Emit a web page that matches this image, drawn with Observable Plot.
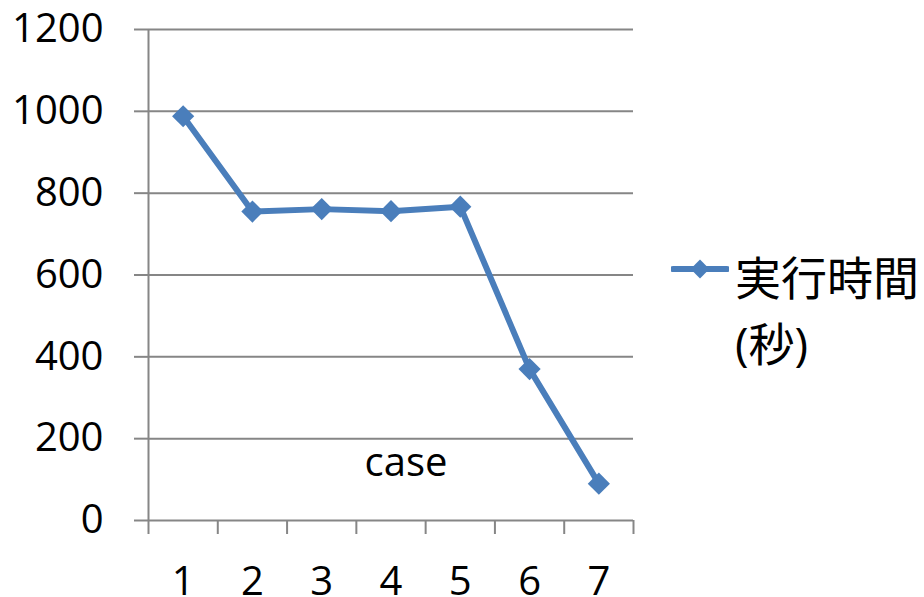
<!DOCTYPE html>
<html>
<head>
<meta charset="utf-8">
<script src="https://cdn.jsdelivr.net/npm/d3@7"></script>
<script src="https://cdn.jsdelivr.net/npm/@observablehq/plot@0.6"></script>
<style>
  body { margin: 0; background: #fff; }
  #chart { position: relative; width: 924px; height: 597px; overflow: hidden;
           font-family: 'Open Sans', 'Noto Sans CJK JP', sans-serif; color: #000; }
  #legend { position: absolute; left: 671px; top: 244px; display: flex; align-items: flex-start; }
  #legend svg { flex: none; margin-top: 13px; }
  #legend .label { margin-left: 6px; width: 190px; font-size: 46px; line-height: 66px; }
</style>
</head>
<body>
<div id="chart"></div>
<script>
// Execution time per case
const cases = [1, 2, 3, 4, 5, 6, 7];
const seconds = [988, 755, 761, 756, 767, 370, 90];
const yTicks = [0, 200, 400, 600, 800, 1000, 1200];
const seriesName = "実行時間(秒)";
const xTitle = "case";

const blue = "#4a7ebb";
const axisGray = "#868686";
const rows = cases.map((c, i) => ({case: c, seconds: seconds[i]}));
const boundaries = d3.range(cases[0] - 0.5, cases[cases.length - 1] + 1, 1);

const chart = Plot.plot({
  width: 924,
  height: 597,
  marginLeft: 148,
  marginRight: 291,
  marginTop: 29,
  marginBottom: 77,
  style: {fontFamily: "'Open Sans', 'Noto Sans CJK JP', sans-serif", fontSize: "40px", background: "#fff", color: "#000"},
  x: {type: "linear", domain: [boundaries[0], boundaries[boundaries.length - 1]]},
  y: {domain: [0, 1200]},
  marks: [
    Plot.gridY(yTicks, {stroke: axisGray, strokeOpacity: 1, strokeWidth: 2}),
    Plot.ruleX([boundaries[0]], {y1: 0, y2: 1200, stroke: axisGray, strokeWidth: 2}),
    Plot.axisY({ticks: yTicks, tickSize: 14, tickPadding: 31, tickFormat: d3.format("d"),
                stroke: axisGray, strokeWidth: 2, fill: "#000", fontSize: 40, label: null}),
    Plot.axisX({ticks: boundaries, tickSize: 14, tickFormat: () => "", stroke: axisGray,
                strokeWidth: 2, label: null}),
    Plot.axisX({ticks: cases, tickSize: 0, tickPadding: 46, tickFormat: d3.format("d"),
                fill: "#000", fontSize: 40, label: null}),
    Plot.text([xTitle], {frameAnchor: "bottom", dx: 15, dy: -45, fontSize: 40, fill: "#000"}),
    Plot.line(rows, {x: "case", y: "seconds", stroke: blue, strokeWidth: 6, strokeLinejoin: "round"}),
    Plot.dot(rows, {x: "case", y: "seconds", symbol: "diamond2", r: 10, fill: blue, stroke: "none"})
  ]
});

const root = document.getElementById("chart");
root.appendChild(chart);

// Series legend beside the plot
const legend = document.createElement("div");
legend.id = "legend";
const sw = d3.create("svg").attr("width", 58).attr("height", 24);
sw.append("line").attr("x1", 2).attr("x2", 56).attr("y1", 12).attr("y2", 12)
  .attr("stroke", blue).attr("stroke-width", 6).attr("stroke-linecap", "round");
sw.append("path").attr("d", d3.symbol(d3.symbolDiamond2, Math.PI * 8.5 * 8.5)())
  .attr("transform", "translate(29,12)").attr("fill", blue);
legend.appendChild(sw.node());
const label = document.createElement("div");
label.className = "label";
label.textContent = seriesName;
legend.appendChild(label);
root.appendChild(legend);
</script>
</body>
</html>
